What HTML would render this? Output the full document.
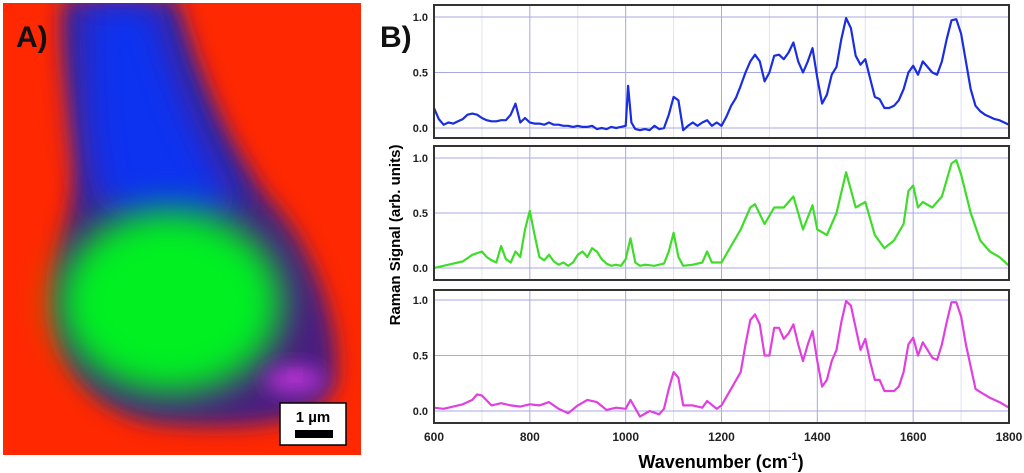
<!DOCTYPE html>
<html><head><meta charset="utf-8"><style>
html,body{margin:0;padding:0;background:#fff;width:1024px;height:473px;overflow:hidden}
svg{position:absolute;left:0;top:0}
text{font-family:"Liberation Sans",sans-serif}
</style></head><body>
<svg width="1024" height="473">
<defs>
<filter id="b8" x="-50%" y="-50%" width="200%" height="200%"><feGaussianBlur stdDeviation="10"/></filter>
<filter id="b14" x="-50%" y="-50%" width="200%" height="200%"><feGaussianBlur stdDeviation="18"/></filter>
<clipPath id="imgclip"><rect x="3" y="3" width="358" height="452"/></clipPath>
</defs>
<g clip-path="url(#imgclip)">
<rect x="3" y="3" width="358" height="452" fill="#ff2800"/>
<path d="M65,0 L175,0 C200,80 230,150 270,200 C310,240 345,330 335,385 C320,425 250,430 170,425 C100,420 50,370 55,290 C58,230 80,200 75,150 C70,90 60,40 65,0 Z" fill="#4a1a80" filter="url(#b8)"/>
<path d="M80,0 L160,0 C175,70 210,150 240,200 C220,240 130,240 95,200 C80,150 80,70 80,0 Z" fill="#1030f0" filter="url(#b14)"/>
<ellipse cx="170" cy="302" rx="112" ry="92" fill="#00f020" filter="url(#b14)"/>
<ellipse cx="295" cy="380" rx="30" ry="14" fill="#b030d0" filter="url(#b8)"/>
<circle cx="295" cy="375" r="4" fill="#ff40ff" filter="url(#b8)"/>
</g>
<text x="16" y="47" font-size="30" font-weight="bold" fill="#111">A)</text>
<g>
<rect x="280" y="403" width="66" height="42" fill="#fff" stroke="#000" stroke-width="1.5"/>
<text x="313" y="422" font-size="15" font-weight="bold" text-anchor="middle">1 µm</text>
<rect x="295" y="430" width="38" height="8" fill="#000"/>
</g>
<text x="380" y="47" font-size="30" font-weight="bold" fill="#111">B)</text>
<text transform="translate(400,235) rotate(-90)" font-size="15" font-weight="bold" text-anchor="middle">Raman Signal (arb. units)</text>
<text x="721" y="468" font-size="18" font-weight="bold" text-anchor="middle">Wavenumber (cm<tspan dy="-8" font-size="11">-1</tspan><tspan dy="8">)</tspan></text>
<g id="charts"></g>
</svg>
<script>
const xTicks=[600,800,1000,1200,1400,1600,1800];
const yTicks=[0.0,0.5,1.0];
const blueX=[600,610,620,630,640,650,660,670,680,690,700,710,720,730,740,750,760,770,780,790,800,810,820,830,840,850,860,870,880,890,900,910,920,930,940,950,960,970,980,990,1000,1005,1012,1020,1030,1040,1050,1060,1070,1080,1090,1100,1110,1120,1130,1140,1150,1160,1170,1180,1190,1200,1210,1220,1230,1240,1250,1260,1270,1280,1290,1300,1310,1320,1330,1340,1350,1360,1370,1380,1390,1400,1410,1420,1430,1440,1450,1460,1470,1480,1490,1500,1510,1520,1530,1540,1550,1560,1570,1580,1590,1600,1610,1620,1630,1640,1650,1660,1670,1680,1690,1700,1710,1720,1730,1740,1750,1760,1770,1780,1790,1800];
const blueY=[0.18,0.08,0.03,0.05,0.04,0.06,0.08,0.12,0.13,0.12,0.09,0.07,0.06,0.06,0.07,0.07,0.12,0.22,0.05,0.09,0.05,0.04,0.04,0.03,0.05,0.03,0.03,0.02,0.02,0.01,0.02,0.01,0.01,0.02,-0.01,0.0,-0.01,0.01,0.0,0.01,0.02,0.38,0.05,-0.01,-0.02,-0.01,-0.02,0.02,-0.01,0.0,0.12,0.28,0.25,-0.02,0.02,0.05,0.02,0.05,0.07,0.02,0.05,0.02,0.1,0.2,0.27,0.38,0.5,0.6,0.66,0.6,0.42,0.5,0.65,0.66,0.62,0.68,0.77,0.6,0.5,0.6,0.72,0.45,0.22,0.3,0.48,0.55,0.8,0.99,0.9,0.65,0.57,0.62,0.45,0.28,0.26,0.18,0.18,0.2,0.25,0.35,0.5,0.56,0.48,0.6,0.55,0.5,0.48,0.6,0.8,0.97,0.98,0.85,0.6,0.35,0.2,0.15,0.12,0.1,0.08,0.07,0.05,0.03];
const greenX=[600,620,640,650,660,680,700,710,720,730,740,750,760,770,780,790,800,810,820,830,840,850,860,870,880,890,900,910,920,930,940,950,960,970,980,990,1000,1010,1020,1030,1040,1060,1080,1090,1100,1110,1120,1140,1160,1170,1180,1200,1220,1240,1260,1270,1290,1310,1330,1350,1370,1390,1400,1420,1440,1460,1480,1500,1520,1540,1560,1580,1590,1600,1610,1620,1640,1660,1680,1690,1700,1720,1740,1760,1780,1800];
const greenY=[0.0,0.02,0.04,0.05,0.06,0.12,0.15,0.1,0.07,0.05,0.2,0.08,0.05,0.15,0.1,0.35,0.52,0.3,0.1,0.07,0.12,0.06,0.03,0.05,0.02,0.05,0.12,0.15,0.1,0.18,0.15,0.08,0.04,0.02,0.03,0.02,0.08,0.27,0.05,0.02,0.03,0.02,0.04,0.15,0.32,0.1,0.02,0.03,0.05,0.15,0.05,0.05,0.2,0.35,0.55,0.58,0.4,0.55,0.55,0.65,0.35,0.57,0.35,0.3,0.5,0.87,0.55,0.6,0.3,0.18,0.25,0.4,0.7,0.75,0.55,0.6,0.55,0.65,0.95,0.98,0.85,0.5,0.25,0.15,0.1,0.02];
const magX=[600,620,640,650,660,680,690,700,720,740,760,780,800,820,840,860,880,900,920,940,960,980,1000,1010,1030,1050,1070,1080,1090,1100,1110,1120,1140,1160,1170,1190,1200,1220,1240,1250,1260,1270,1280,1290,1300,1310,1320,1330,1340,1350,1360,1370,1380,1390,1400,1410,1420,1430,1440,1450,1460,1470,1480,1490,1500,1510,1520,1530,1540,1560,1570,1580,1590,1600,1610,1620,1630,1640,1650,1660,1670,1680,1690,1700,1710,1720,1730,1740,1760,1780,1800];
const magY=[0.03,0.02,0.04,0.05,0.06,0.1,0.15,0.14,0.05,0.07,0.05,0.04,0.06,0.05,0.08,0.02,-0.02,0.05,0.1,0.08,0.01,0.03,0.02,0.1,-0.05,0.0,-0.03,0.02,0.2,0.35,0.3,0.05,0.05,0.03,0.09,0.02,0.05,0.2,0.35,0.6,0.82,0.87,0.78,0.5,0.5,0.75,0.75,0.65,0.7,0.78,0.6,0.45,0.6,0.72,0.45,0.22,0.28,0.45,0.55,0.8,0.99,0.95,0.75,0.55,0.65,0.45,0.28,0.28,0.18,0.18,0.22,0.35,0.6,0.66,0.5,0.62,0.55,0.48,0.46,0.6,0.8,0.98,0.98,0.85,0.6,0.4,0.2,0.17,0.12,0.08,0.03];

const NS='http://www.w3.org/2000/svg';
const root=document.getElementById('charts');
const X0=434,X1=1009;
function xs(v){return X0+(v-600)/1200*(X1-X0);}
const panels=[
 {x:blueX,y:blueY,color:'#1a2ee0',top:5,bot:138,y1:17,y0:128,name:'spectrum-blue'},
 {x:greenX,y:greenY,color:'#3fdc2a',top:146,bot:280,y1:158,y0:268,name:'spectrum-green'},
 {x:magX,y:magY,color:'#e040e0',top:290,bot:423,y1:300,y0:411,name:'spectrum-magenta'}];
function mk(tag,attrs,parent){const e=document.createElementNS(NS,tag);for(const k in attrs)e.setAttribute(k,attrs[k]);(parent||root).appendChild(e);return e;}
panels.forEach((p,i)=>{
 const g=mk('g',{});
 
 
 const ys=v=>p.y0+(p.y1-p.y0)*v;
 for(let w=700;w<1800;w+=200){const l=mk('line',{x1:xs(w),x2:xs(w),y1:p.top,y2:p.bot,stroke:'#e2e2f2','stroke-width':1},g);
  
  }
 xTicks.forEach(w=>{const l=mk('line',{x1:xs(w),x2:xs(w),y1:p.top,y2:p.bot,stroke:'#a8a8e4','stroke-width':1},g);
  
  });
 yTicks.forEach(v=>{const l=mk('line',{x1:X0,x2:X1,y1:ys(v),y2:ys(v),stroke:'#a8a8e4','stroke-width':1},g);
  
  
  const t=mk('text',{x:X0-6,y:ys(v)+4,'font-size':11,'font-weight':'bold','text-anchor':'end',fill:'#222'},g);
  t.textContent=v.toFixed(1);
  
  });
 let d='';p.x.forEach((w,j)=>{d+=(j?'L':'M')+xs(w).toFixed(1)+','+ys(p.y[j]).toFixed(1);});
 const path=mk('path',{d:d,fill:'none',stroke:p.color,'stroke-width':2.2,'stroke-linejoin':'round'},g);
 
 
 const fr=mk('rect',{x:X0,y:p.top,width:X1-X0,height:p.bot-p.top,fill:'none',stroke:'#333','stroke-width':2},g);
 
 
});
xTicks.forEach(w=>{const t=mk('text',{x:xs(w),y:441,'font-size':12,'font-weight':'bold','text-anchor':'middle',fill:'#222'});
 t.textContent=w;
 
 });
</script>
</body></html>
